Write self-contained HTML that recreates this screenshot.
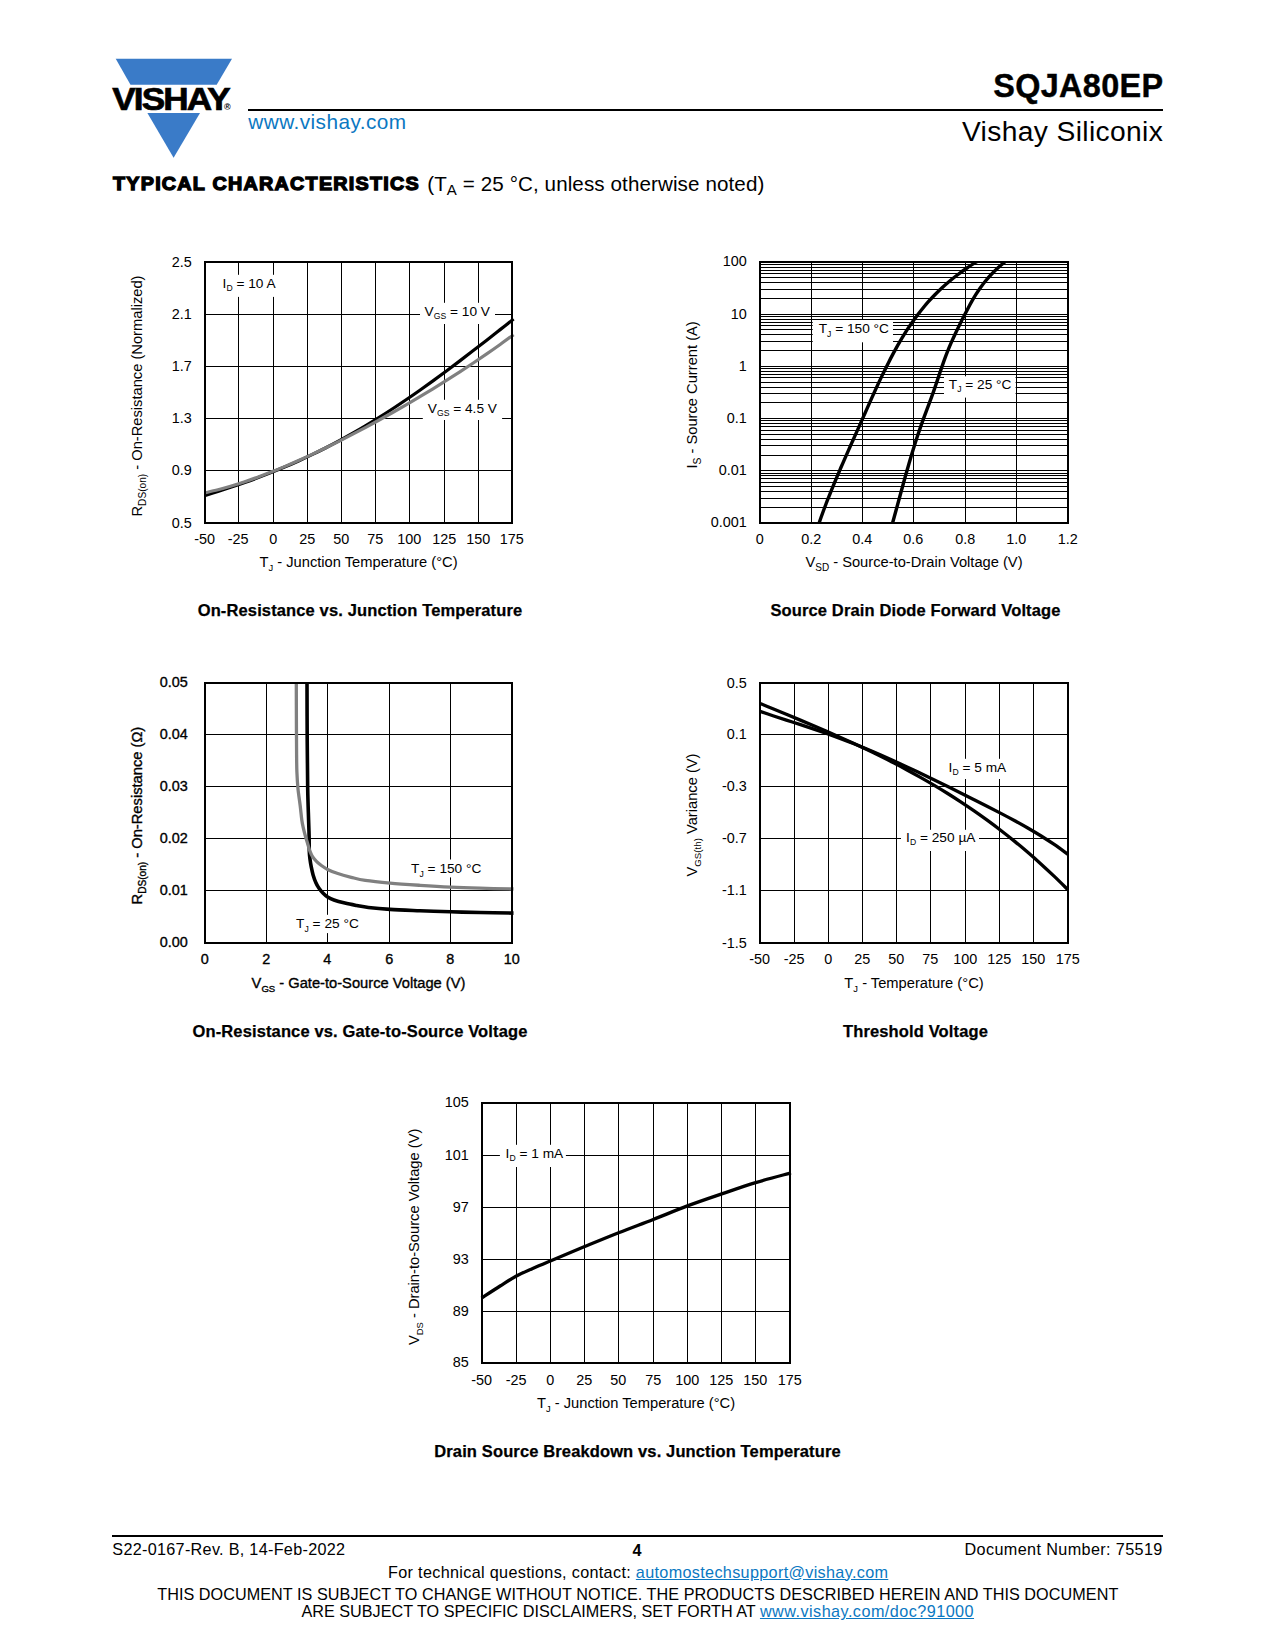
<!DOCTYPE html>
<html lang="en"><head><meta charset="utf-8"><title>SQJA80EP - Vishay Siliconix</title>
<style>
html,body{margin:0;padding:0;background:#fff;}
body{width:1275px;height:1650px;position:relative;overflow:hidden;font-family:"Liberation Sans", sans-serif;color:#000;}
.abs{position:absolute;white-space:nowrap;line-height:1;}
a{color:#0b78c2;text-decoration:underline;}
svg{position:absolute;left:0;top:0;}
svg text{font-family:"Liberation Sans", sans-serif;fill:#000;}
.grid{fill:none;stroke:#000;stroke-width:1;shape-rendering:crispEdges;}
.frame{fill:none;stroke:#000;stroke-width:2;shape-rendering:crispEdges;}
.curve{fill:none;stroke-linecap:butt;stroke-linejoin:round;}
.lbox{fill:#fff;}
.tk{font-size:14.4px;}
.ax{font-size:14.7px;}
.lbl{font-size:13.7px;}
.lbl .sb{font-size:63%;}
.sb{font-size:64%;}
.ttl{font-size:16.5px;font-weight:bold;letter-spacing:0.13px;stroke:#000;stroke-width:0.25px;}
.bolder .tk,.bolder .ax{stroke:#000;stroke-width:0.35px;}
.vishay{font-size:30.8px;font-weight:bold;stroke:#000;stroke-width:0.7px;letter-spacing:-1.6px;}
.reg{font-size:9px;font-weight:bold;}
#pn{right:111.5px;top:69.5px;font-size:32.4px;font-weight:bold;letter-spacing:0.35px;-webkit-text-stroke:0.4px #000;}
#sil{right:111.8px;top:116.7px;font-size:28.2px;letter-spacing:0.37px;}
#www{left:248.3px;top:112px;font-size:20.8px;color:#0b78c2;letter-spacing:0.43px;}
#rule{position:absolute;left:248px;top:109px;width:915px;height:2px;background:#000;}
#tc{left:112.7px;top:174.9px;font-size:18.8px;font-weight:bold;-webkit-text-stroke:1.3px #000;letter-spacing:1.2px;transform:scaleX(1.05);transform-origin:0 0;}
#tc2{left:427.2px;top:174px;font-size:20.6px;letter-spacing:0.1px;}
#tc2 sub{font-size:15px;vertical-align:baseline;position:relative;top:4px;}
#frule{position:absolute;left:112px;top:1535px;width:1051px;height:2px;background:#000;}
.ft{font-size:16.2px;}
</style></head><body>
<div id="rule"></div>
<div class="abs" id="pn">SQJA80EP</div>
<div class="abs" id="sil">Vishay Siliconix</div>
<div class="abs" id="www">www.vishay.com</div>
<div class="abs" id="tc">TYPICAL CHARACTERISTICS</div>
<div class="abs" id="tc2">(T<sub>A</sub> = 25 °C, unless otherwise noted)</div>
<svg width="1275" height="1650" viewBox="0 0 1275 1650">
<g class="logo">
<polygon points="115.7,58.8 232,58.8 216.7,84.8 130.5,84.8" fill="#3a7bc8"/>
<polygon points="147.4,113.1 200,113.1 173.6,157.7" fill="#3a7bc8"/>
<text x="112.2" y="109.7" class="vishay" textLength="116.6" lengthAdjust="spacingAndGlyphs">VISHAY</text>
<text x="224" y="110.2" class="reg">®</text>
</g>
<g class="chart">
<path class="grid" d="M238.5,262V523M273.5,262V523M307.5,262V523M341.5,262V523M375.5,262V523M409.5,262V523M444.5,262V523M478.5,262V523M205,314.5H512M205,366.5H512M205,418.5H512M205,470.5H512"/>
<rect class="lbox" x="217" y="274.8" width="66" height="22.1"/>
<rect class="lbox" x="420" y="302.8" width="75" height="21.2"/>
<rect class="lbox" x="422.8" y="399.8" width="79.3" height="20.2"/>
<path class="curve" stroke="#000" stroke-width="3.2" d="M204.5,495.63 C206.74,494.94 213.46,492.88 217.94,491.46 C222.42,490.04 226.9,488.58 231.38,487.09 C235.86,485.59 240.34,484.06 244.82,482.47 C249.3,480.89 253.78,479.26 258.26,477.58 C262.74,475.89 267.22,474.16 271.7,472.37 C276.18,470.58 280.66,468.73 285.13,466.82 C289.61,464.92 294.09,462.95 298.57,460.92 C303.05,458.89 307.53,456.8 312.01,454.64 C316.49,452.48 320.97,450.26 325.45,447.97 C329.93,445.68 334.41,443.33 338.89,440.9 C343.37,438.48 347.85,436 352.33,433.44 C356.81,430.89 361.29,428.27 365.77,425.59 C370.25,422.9 374.73,420.15 379.21,417.34 C383.69,414.54 388.17,411.66 392.65,408.73 C397.13,405.8 401.61,402.81 406.09,399.76 C410.57,396.72 415.05,393.61 419.53,390.46 C424.01,387.31 428.49,384.1 432.97,380.86 C437.44,377.61 441.92,374.32 446.4,370.99 C450.88,367.66 455.36,364.28 459.84,360.88 C464.32,357.48 468.8,354.04 473.28,350.59 C477.76,347.13 482.24,343.64 486.72,340.15 C491.2,336.66 495.68,333.14 500.16,329.63 C504.64,326.12 511.36,320.84 513.6,319.08"/>
<path class="curve" stroke="#808080" stroke-width="3.2" d="M204.5,492.97 C206.74,492.44 213.46,490.92 217.94,489.76 C222.42,488.6 226.9,487.33 231.38,485.99 C235.86,484.65 240.34,483.22 244.82,481.72 C249.3,480.22 253.78,478.64 258.26,476.99 C262.74,475.35 267.22,473.63 271.7,471.86 C276.18,470.08 280.66,468.24 285.13,466.36 C289.61,464.47 294.09,462.52 298.57,460.52 C303.05,458.53 307.53,456.48 312.01,454.39 C316.49,452.3 320.97,450.16 325.45,447.98 C329.93,445.8 334.41,443.58 338.89,441.32 C343.37,439.06 347.85,436.77 352.33,434.43 C356.81,432.1 361.29,429.73 365.77,427.33 C370.25,424.93 374.73,422.49 379.21,420.02 C383.69,417.55 388.17,415.04 392.65,412.51 C397.13,409.97 401.61,407.4 406.09,404.79 C410.57,402.19 415.05,399.55 419.53,396.88 C424.01,394.21 428.49,391.5 432.97,388.76 C437.44,386.02 441.92,383.24 446.4,380.42 C450.88,377.6 455.36,374.74 459.84,371.84 C464.32,368.93 468.8,365.99 473.28,363 C477.76,360.01 482.24,356.97 486.72,353.88 C491.2,350.79 495.68,347.65 500.16,344.45 C504.64,341.25 511.36,336.31 513.6,334.68"/>
<rect class="frame" x="205" y="262" width="307" height="261"/>
<text class="lbl" x="222.6" y="288">I<tspan class="sb" dy="3.0">D</tspan><tspan dy="-3.0"> = 10 A</tspan></text>
<text class="lbl" x="424.6" y="315.7">V<tspan class="sb" dy="3.0">GS</tspan><tspan dy="-3.0"> = 10 V</tspan></text>
<text class="lbl" x="427.8" y="412.7">V<tspan class="sb" dy="3.0">GS</tspan><tspan dy="-3.0"> = 4.5 V</tspan></text>
<text class="tk" text-anchor="middle" x="204.7" y="544.2">-50</text>
<text class="tk" text-anchor="middle" x="238.2" y="544.2">-25</text>
<text class="tk" text-anchor="middle" x="273.2" y="544.2">0</text>
<text class="tk" text-anchor="middle" x="307.2" y="544.2">25</text>
<text class="tk" text-anchor="middle" x="341.2" y="544.2">50</text>
<text class="tk" text-anchor="middle" x="375.2" y="544.2">75</text>
<text class="tk" text-anchor="middle" x="409.2" y="544.2">100</text>
<text class="tk" text-anchor="middle" x="444.2" y="544.2">125</text>
<text class="tk" text-anchor="middle" x="478.2" y="544.2">150</text>
<text class="tk" text-anchor="middle" x="511.7" y="544.2">175</text>
<text class="tk" text-anchor="end" x="191.8" y="266.95">2.5</text>
<text class="tk" text-anchor="end" x="191.8" y="319.45">2.1</text>
<text class="tk" text-anchor="end" x="191.8" y="371.45">1.7</text>
<text class="tk" text-anchor="end" x="191.8" y="423.45">1.3</text>
<text class="tk" text-anchor="end" x="191.8" y="475.45">0.9</text>
<text class="tk" text-anchor="end" x="191.8" y="527.95">0.5</text>
<text class="ax" text-anchor="middle" x="358.5" y="567.1">T<tspan class="sb" dy="3.8">J</tspan><tspan dy="-3.8"> - Junction Temperature (°C)</tspan></text>
<text class="ax" text-anchor="middle" transform="translate(141.7,396) rotate(-90)">R<tspan class="sb" style="font-size:69%" dy="3.8">DS(on)</tspan><tspan dy="-3.8"> - On-Resistance (Normalized)</tspan></text>
<text class="ttl" text-anchor="middle" x="360" y="615.8">On-Resistance vs. Junction Temperature</text>
</g>
<g class="chart">
<path class="grid" d="M811.5,262V523M862.5,262V523M913.5,262V523M965.5,262V523M1016.5,262V523M760,507.5H1068M760,498.5H1068M760,491.5H1068M760,486.5H1068M760,482.5H1068M760,478.5H1068M760,475.5H1068M760,473.5H1068M760,470.5H1068M760,455.5H1068M760,445.5H1068M760,439.5H1068M760,434.5H1068M760,430.5H1068M760,426.5H1068M760,423.5H1068M760,420.5H1068M760,418.5H1068M760,402.5H1068M760,393.5H1068M760,387.5H1068M760,382.5H1068M760,377.5H1068M760,374.5H1068M760,371.5H1068M760,368.5H1068M760,366.5H1068M760,350.5H1068M760,341.5H1068M760,334.5H1068M760,329.5H1068M760,325.5H1068M760,322.5H1068M760,319.5H1068M760,316.5H1068M760,314.5H1068M760,298.5H1068M760,289.5H1068M760,282.5H1068M760,277.5H1068M760,273.5H1068M760,270.5H1068M760,267.5H1068M760,264.5H1068"/>
<rect class="lbox" x="812.7" y="320" width="80.3" height="22.3"/>
<rect class="lbox" x="944" y="376.3" width="71.6" height="21.3"/>
<clipPath id="cp2a"><rect x="757" y="261" width="314" height="263"/></clipPath>
<path class="curve" clip-path="url(#cp2a)" stroke="#000" stroke-width="3.4" d="M818.76,524 C819.15,522.88 820.31,519.5 821.1,517.26 C821.9,515.01 822.72,512.76 823.55,510.51 C824.38,508.26 825.22,506.02 826.08,503.77 C826.94,501.52 827.81,499.27 828.7,497.03 C829.58,494.78 830.48,492.53 831.39,490.28 C832.3,488.03 833.22,485.79 834.15,483.54 C835.08,481.29 836.02,479.04 836.97,476.79 C837.92,474.55 838.88,472.3 839.84,470.05 C840.81,467.8 841.78,465.56 842.76,463.31 C843.74,461.06 844.72,458.81 845.71,456.56 C846.7,454.32 847.69,452.07 848.69,449.82 C849.68,447.57 850.68,445.32 851.68,443.08 C852.68,440.83 853.69,438.58 854.69,436.33 C855.7,434.09 856.7,431.84 857.71,429.59 C858.71,427.34 859.71,425.09 860.72,422.85 C861.72,420.6 862.72,418.35 863.71,416.1 C864.71,413.85 865.7,411.61 866.7,409.36 C867.7,407.11 868.69,404.86 869.7,402.62 C870.7,400.37 871.7,398.12 872.71,395.87 C873.73,393.62 874.74,391.38 875.77,389.13 C876.8,386.88 877.84,384.63 878.89,382.38 C879.94,380.14 881,377.89 882.08,375.64 C883.15,373.39 884.25,371.15 885.36,368.9 C886.47,366.65 887.59,364.4 888.74,362.15 C889.89,359.91 891.06,357.66 892.26,355.41 C893.45,353.16 894.66,350.91 895.91,348.67 C897.16,346.42 898.42,344.17 899.73,341.92 C901.04,339.68 902.38,337.43 903.76,335.18 C905.15,332.93 906.57,330.68 908.04,328.44 C909.52,326.19 911.04,323.94 912.62,321.69 C914.21,319.44 915.84,317.2 917.55,314.95 C919.25,312.7 921.01,310.45 922.85,308.21 C924.7,305.96 926.6,303.71 928.6,301.46 C930.61,299.21 932.69,296.97 934.9,294.72 C937.1,292.47 939.39,290.22 941.82,287.97 C944.25,285.73 946.79,283.48 949.48,281.23 C952.17,278.98 954.99,276.74 957.97,274.49 C960.95,272.24 964.08,269.99 967.38,267.74 C970.69,265.5 976.08,262.12 977.82,261"/>
<clipPath id="cp2b"><rect x="757" y="261" width="314" height="263"/></clipPath>
<path class="curve" clip-path="url(#cp2b)" stroke="#000" stroke-width="3.4" d="M892.27,524 C892.59,522.88 893.53,519.5 894.15,517.26 C894.77,515.01 895.39,512.76 896,510.51 C896.62,508.26 897.23,506.02 897.84,503.77 C898.46,501.52 899.07,499.27 899.68,497.03 C900.29,494.78 900.9,492.53 901.52,490.28 C902.13,488.03 902.75,485.79 903.37,483.54 C903.99,481.29 904.61,479.04 905.24,476.79 C905.87,474.55 906.5,472.3 907.15,470.05 C907.79,467.8 908.43,465.56 909.09,463.31 C909.74,461.06 910.4,458.81 911.07,456.56 C911.74,454.32 912.42,452.07 913.11,449.82 C913.8,447.57 914.5,445.32 915.22,443.08 C915.93,440.83 916.66,438.58 917.4,436.33 C918.13,434.09 918.89,431.84 919.65,429.59 C920.42,427.34 921.2,425.09 922,422.85 C922.8,420.6 923.62,418.35 924.45,416.1 C925.27,413.85 926.12,411.61 926.97,409.36 C927.81,407.11 928.67,404.86 929.5,402.62 C930.34,400.37 931.18,398.12 932,395.87 C932.81,393.62 933.61,391.38 934.39,389.13 C935.17,386.88 935.92,384.63 936.68,382.38 C937.44,380.14 938.18,377.89 938.93,375.64 C939.69,373.39 940.43,371.15 941.2,368.9 C941.97,366.65 942.74,364.4 943.54,362.15 C944.34,359.91 945.16,357.66 946.01,355.41 C946.87,353.16 947.75,350.91 948.67,348.67 C949.6,346.42 950.56,344.17 951.55,341.92 C952.54,339.68 953.56,337.43 954.6,335.18 C955.64,332.93 956.71,330.68 957.8,328.44 C958.88,326.19 959.99,323.94 961.11,321.69 C962.24,319.44 963.38,317.2 964.54,314.95 C965.7,312.7 966.88,310.45 968.08,308.21 C969.28,305.96 970.49,303.71 971.77,301.46 C973.05,299.21 974.35,296.97 975.76,294.72 C977.17,292.47 978.63,290.22 980.22,287.97 C981.81,285.73 983.48,283.48 985.31,281.23 C987.15,278.98 989.08,276.74 991.21,274.49 C993.34,272.24 995.59,269.99 998.07,267.74 C1000.54,265.5 1004.73,262.12 1006.06,261"/>
<rect class="frame" x="760" y="262" width="308" height="261"/>
<text class="lbl" x="818.7" y="332.9">T<tspan class="sb" dy="3.8">J</tspan><tspan dy="-3.8"> = 150 °C</tspan></text>
<text class="lbl" x="948.8" y="388.6">T<tspan class="sb" dy="3.8">J</tspan><tspan dy="-3.8"> = 25 °C</tspan></text>
<text class="tk" text-anchor="middle" x="759.7" y="544.2">0</text>
<text class="tk" text-anchor="middle" x="811.2" y="544.2">0.2</text>
<text class="tk" text-anchor="middle" x="862.2" y="544.2">0.4</text>
<text class="tk" text-anchor="middle" x="913.2" y="544.2">0.6</text>
<text class="tk" text-anchor="middle" x="965.2" y="544.2">0.8</text>
<text class="tk" text-anchor="middle" x="1016.2" y="544.2">1.0</text>
<text class="tk" text-anchor="middle" x="1067.7" y="544.2">1.2</text>
<text class="tk" text-anchor="end" x="746.8" y="266.35">100</text>
<text class="tk" text-anchor="end" x="746.8" y="318.55">10</text>
<text class="tk" text-anchor="end" x="746.8" y="370.75">1</text>
<text class="tk" text-anchor="end" x="746.8" y="422.95">0.1</text>
<text class="tk" text-anchor="end" x="746.8" y="475.15">0.01</text>
<text class="tk" text-anchor="end" x="746.8" y="527.35">0.001</text>
<text class="ax" text-anchor="middle" x="914" y="567.1">V<tspan class="sb" style="font-size:68%" dy="3.8">SD</tspan><tspan dy="-3.8"> - Source-to-Drain Voltage (V)</tspan></text>
<text class="ax" text-anchor="middle" transform="translate(696.7,394.9) rotate(-90)">I<tspan class="sb" style="font-size:70%" dy="3.8">S</tspan><tspan dy="-3.8"> - Source Current (A)</tspan></text>
<text class="ttl" text-anchor="middle" x="915.5" y="615.8">Source Drain Diode Forward Voltage</text>
</g>
<g class="chart bolder">
<path class="grid" d="M266.5,683V943M327.5,683V943M389.5,683V943M450.5,683V943M205,734.5H512M205,786.5H512M205,838.5H512M205,890.5H512"/>
<rect class="lbox" x="405" y="859.5" width="81" height="17.9"/>
<rect class="lbox" x="291" y="914.8" width="73" height="18.3"/>
<path class="curve" stroke="#000" stroke-width="3.6" d="M307,682 C307.03,691.67 307.08,722.2 307.2,740 C307.32,757.8 307.47,775.47 307.7,788.8 C307.93,802.13 308.37,812.18 308.6,820 C308.83,827.82 308.98,830.47 309.1,835.7 C309.22,840.93 309.15,847.48 309.3,851.4 C309.45,855.32 309.67,856.58 310,859.2 C310.33,861.82 310.78,864.48 311.3,867.1 C311.82,869.72 312.33,872.3 313.1,874.9 C313.87,877.5 314.92,880.48 315.9,882.7 C316.88,884.92 317.83,886.5 319,888.2 C320.17,889.9 321.47,891.45 322.9,892.9 C324.33,894.35 325.77,895.72 327.6,896.9 C329.43,898.08 331.02,898.97 333.9,900 C336.78,901.03 341.1,902.18 344.9,903.1 C348.7,904.02 352.78,904.77 356.7,905.5 C360.62,906.23 362.85,906.85 368.4,907.5 C373.95,908.15 381.4,908.87 390,909.4 C398.6,909.93 409.92,910.3 420,910.7 C430.08,911.1 440.5,911.5 450.5,911.8 C460.5,912.1 469.5,912.28 480,912.5 C490.5,912.72 507.92,913 513.5,913.1"/>
<path class="curve" stroke="#808080" stroke-width="3.3" d="M296.3,682 C296.32,688.33 296.35,707.83 296.4,720 C296.45,732.17 296.52,746.33 296.6,755 C296.68,763.67 296.67,766.37 296.9,772 C297.13,777.63 297.45,783.18 298,788.8 C298.55,794.42 299.57,800.5 300.2,805.7 C300.83,810.9 301.28,816.32 301.8,820 C302.32,823.68 302.72,825.18 303.3,827.8 C303.88,830.42 304.58,833.08 305.3,835.7 C306.02,838.32 306.82,840.88 307.6,843.5 C308.38,846.12 309.15,849.17 310,851.4 C310.85,853.63 311.58,855.2 312.7,856.9 C313.82,858.6 315.25,860.17 316.7,861.6 C318.15,863.03 319.58,864.2 321.4,865.5 C323.22,866.8 324.98,868.1 327.6,869.4 C330.22,870.7 333.17,871.98 337.1,873.3 C341.03,874.62 346.5,876.12 351.2,877.3 C355.9,878.48 358.83,879.43 365.3,880.4 C371.77,881.37 380.88,882.28 390,883.1 C399.12,883.92 409.92,884.63 420,885.3 C430.08,885.97 440.5,886.62 450.5,887.1 C460.5,887.58 469.5,887.88 480,888.2 C490.5,888.52 507.92,888.87 513.5,889"/>
<rect class="frame" x="205" y="683" width="307" height="260"/>
<text class="lbl" x="411.1" y="872.7">T<tspan class="sb" dy="3.8">J</tspan><tspan dy="-3.8"> = 150 °C</tspan></text>
<text class="lbl" x="296.1" y="927.7">T<tspan class="sb" dy="3.8">J</tspan><tspan dy="-3.8"> = 25 °C</tspan></text>
<text class="tk" text-anchor="middle" x="204.7" y="964.2">0</text>
<text class="tk" text-anchor="middle" x="266.2" y="964.2">2</text>
<text class="tk" text-anchor="middle" x="327.2" y="964.2">4</text>
<text class="tk" text-anchor="middle" x="389.2" y="964.2">6</text>
<text class="tk" text-anchor="middle" x="450.2" y="964.2">8</text>
<text class="tk" text-anchor="middle" x="511.7" y="964.2">10</text>
<text class="tk" text-anchor="end" x="187.8" y="687.15">0.05</text>
<text class="tk" text-anchor="end" x="187.8" y="738.65">0.04</text>
<text class="tk" text-anchor="end" x="187.8" y="790.65">0.03</text>
<text class="tk" text-anchor="end" x="187.8" y="842.65">0.02</text>
<text class="tk" text-anchor="end" x="187.8" y="894.65">0.01</text>
<text class="tk" text-anchor="end" x="187.8" y="947.15">0.00</text>
<text class="ax" text-anchor="middle" x="358.5" y="988.4">V<tspan class="sb" style="font-size:65%" dy="3.8">GS</tspan><tspan dy="-3.8"> - Gate-to-Source Voltage (V)</tspan></text>
<text class="ax" text-anchor="middle" transform="translate(141.7,815.6) rotate(-90)">R<tspan class="sb" style="font-size:69%" dy="3.8">DS(on)</tspan><tspan dy="-3.8"> - On-Resistance (Ω)</tspan></text>
<text class="ttl" text-anchor="middle" x="360" y="1036.8">On-Resistance vs. Gate-to-Source Voltage</text>
</g>
<g class="chart">
<path class="grid" d="M794.5,683V943M828.5,683V943M862.5,683V943M896.5,683V943M930.5,683V943M965.5,683V943M999.5,683V943M1033.5,683V943M760,734.5H1068M760,786.5H1068M760,838.5H1068M760,890.5H1068"/>
<rect class="lbox" x="942" y="758.8" width="68" height="20.2"/>
<rect class="lbox" x="901" y="829.8" width="78" height="21.2"/>
<path class="curve" stroke="#000" stroke-width="3.3" d="M759.5,703.17 C761.74,704.09 768.44,706.87 772.91,708.72 C777.38,710.57 781.86,712.42 786.33,714.28 C790.8,716.14 795.27,718 799.74,719.87 C804.21,721.75 808.68,723.64 813.15,725.54 C817.62,727.45 822.09,729.37 826.57,731.32 C831.04,733.26 835.51,735.23 839.98,737.22 C844.45,739.22 848.92,741.24 853.39,743.3 C857.86,745.36 862.33,747.45 866.8,749.58 C871.28,751.71 875.75,753.87 880.22,756.09 C884.69,758.3 889.16,760.55 893.63,762.86 C898.1,765.17 902.57,767.52 907.04,769.93 C911.51,772.35 915.99,774.81 920.46,777.34 C924.93,779.86 929.4,782.45 933.87,785.1 C938.34,787.76 942.81,790.47 947.28,793.26 C951.75,796.05 956.22,798.91 960.7,801.85 C965.17,804.79 969.64,807.8 974.11,810.9 C978.58,814 983.05,817.17 987.52,820.44 C991.99,823.7 996.46,827.05 1000.93,830.5 C1005.41,833.95 1009.88,837.48 1014.35,841.12 C1018.82,844.76 1023.29,848.49 1027.76,852.33 C1032.23,856.17 1036.7,860.11 1041.17,864.16 C1045.64,868.22 1050.12,872.37 1054.59,876.65 C1059.06,880.93 1065.76,887.63 1068,889.82"/>
<path class="curve" stroke="#000" stroke-width="3.3" d="M759.5,711.11 C761.74,711.87 768.44,714.2 772.91,715.7 C777.38,717.19 781.86,718.62 786.33,720.07 C790.8,721.53 795.27,722.95 799.74,724.42 C804.21,725.88 808.68,727.35 813.15,728.86 C817.62,730.38 822.09,731.92 826.57,733.51 C831.04,735.1 835.51,736.73 839.98,738.4 C844.45,740.08 848.92,741.81 853.39,743.59 C857.86,745.36 862.33,747.19 866.8,749.06 C871.28,750.92 875.75,752.84 880.22,754.8 C884.69,756.75 889.16,758.75 893.63,760.78 C898.1,762.81 902.57,764.88 907.04,766.97 C911.51,769.05 915.99,771.18 920.46,773.31 C924.93,775.45 929.4,777.61 933.87,779.78 C938.34,781.95 942.81,784.14 947.28,786.34 C951.75,788.54 956.22,790.75 960.7,792.97 C965.17,795.19 969.64,797.42 974.11,799.66 C978.58,801.91 983.05,804.16 987.52,806.44 C991.99,808.73 996.46,811.02 1000.93,813.36 C1005.41,815.71 1009.88,818.07 1014.35,820.5 C1018.82,822.94 1023.29,825.41 1027.76,827.99 C1032.23,830.57 1036.7,833.2 1041.17,835.98 C1045.64,838.77 1050.12,841.63 1054.59,844.71 C1059.06,847.79 1065.76,852.82 1068,854.44"/>
<rect class="frame" x="760" y="683" width="308" height="260"/>
<text class="lbl" x="948.6" y="771.8">I<tspan class="sb" dy="3.0">D</tspan><tspan dy="-3.0"> = 5 mA</tspan></text>
<text class="lbl" x="906.1" y="841.8">I<tspan class="sb" dy="3.0">D</tspan><tspan dy="-3.0"> = 250 µA</tspan></text>
<text class="tk" text-anchor="middle" x="759.7" y="964.2">-50</text>
<text class="tk" text-anchor="middle" x="794.2" y="964.2">-25</text>
<text class="tk" text-anchor="middle" x="828.2" y="964.2">0</text>
<text class="tk" text-anchor="middle" x="862.2" y="964.2">25</text>
<text class="tk" text-anchor="middle" x="896.2" y="964.2">50</text>
<text class="tk" text-anchor="middle" x="930.2" y="964.2">75</text>
<text class="tk" text-anchor="middle" x="965.2" y="964.2">100</text>
<text class="tk" text-anchor="middle" x="999.2" y="964.2">125</text>
<text class="tk" text-anchor="middle" x="1033.2" y="964.2">150</text>
<text class="tk" text-anchor="middle" x="1067.7" y="964.2">175</text>
<text class="tk" text-anchor="end" x="746.8" y="687.95">0.5</text>
<text class="tk" text-anchor="end" x="746.8" y="739.45">0.1</text>
<text class="tk" text-anchor="end" x="746.8" y="791.45">-0.3</text>
<text class="tk" text-anchor="end" x="746.8" y="843.45">-0.7</text>
<text class="tk" text-anchor="end" x="746.8" y="895.45">-1.1</text>
<text class="tk" text-anchor="end" x="746.8" y="947.95">-1.5</text>
<text class="ax" text-anchor="middle" x="914" y="988.4">T<tspan class="sb" dy="3.8">J</tspan><tspan dy="-3.8"> - Temperature (°C)</tspan></text>
<text class="ax" text-anchor="middle" transform="translate(696.7,815) rotate(-90)">V<tspan class="sb" style="font-size:66%" dy="3.8">GS(th)</tspan><tspan dy="-3.8"> Variance (V)</tspan></text>
<text class="ttl" text-anchor="middle" x="915.5" y="1036.8">Threshold Voltage</text>
</g>
<g class="chart">
<path class="grid" d="M516.5,1103V1363M550.5,1103V1363M584.5,1103V1363M618.5,1103V1363M653.5,1103V1363M687.5,1103V1363M721.5,1103V1363M755.5,1103V1363M482,1155.5H790M482,1207.5H790M482,1259.5H790M482,1311.5H790"/>
<rect class="lbox" x="499.9" y="1144.8" width="66" height="22.2"/>
<path class="curve" stroke="#000" stroke-width="3.3" d="M481.5,1298.1 C484.6,1296.08 494.28,1289.68 500.1,1286 C505.92,1282.32 510.97,1278.93 516.4,1276 C521.83,1273.07 527.05,1270.92 532.7,1268.4 C538.35,1265.88 541.63,1264.53 550.3,1260.9 C558.97,1257.27 573.32,1251.28 584.7,1246.6 C596.08,1241.92 607.18,1237.32 618.6,1232.8 C630.02,1228.28 641.73,1223.98 653.2,1219.5 C664.67,1215.02 675.98,1210.17 687.4,1205.9 C698.82,1201.63 710.33,1197.78 721.7,1193.9 C733.07,1190.02 744.05,1186.1 755.6,1182.6 C767.15,1179.1 785.1,1174.52 791,1172.9"/>
<rect class="frame" x="482" y="1103" width="308" height="260"/>
<text class="lbl" x="505.6" y="1157.8">I<tspan class="sb" dy="3.0">D</tspan><tspan dy="-3.0"> = 1 mA</tspan></text>
<text class="tk" text-anchor="middle" x="481.7" y="1385.3">-50</text>
<text class="tk" text-anchor="middle" x="516.2" y="1385.3">-25</text>
<text class="tk" text-anchor="middle" x="550.2" y="1385.3">0</text>
<text class="tk" text-anchor="middle" x="584.2" y="1385.3">25</text>
<text class="tk" text-anchor="middle" x="618.2" y="1385.3">50</text>
<text class="tk" text-anchor="middle" x="653.2" y="1385.3">75</text>
<text class="tk" text-anchor="middle" x="687.2" y="1385.3">100</text>
<text class="tk" text-anchor="middle" x="721.2" y="1385.3">125</text>
<text class="tk" text-anchor="middle" x="755.2" y="1385.3">150</text>
<text class="tk" text-anchor="middle" x="789.7" y="1385.3">175</text>
<text class="tk" text-anchor="end" x="468.8" y="1107.15">105</text>
<text class="tk" text-anchor="end" x="468.8" y="1159.65">101</text>
<text class="tk" text-anchor="end" x="468.8" y="1211.65">97</text>
<text class="tk" text-anchor="end" x="468.8" y="1263.65">93</text>
<text class="tk" text-anchor="end" x="468.8" y="1315.65">89</text>
<text class="tk" text-anchor="end" x="468.8" y="1367.15">85</text>
<text class="ax" text-anchor="middle" x="636" y="1408.4">T<tspan class="sb" dy="3.8">J</tspan><tspan dy="-3.8"> - Junction Temperature (°C)</tspan></text>
<text class="ax" text-anchor="middle" transform="translate(418.7,1236.8) rotate(-90)">V<tspan class="sb" dy="3.8">DS</tspan><tspan dy="-3.8"> - Drain-to-Source Voltage (V)</tspan></text>
<text class="ttl" text-anchor="middle" x="637.5" y="1456.9">Drain Source Breakdown vs. Junction Temperature</text>
</g>
</svg>
<div id="frule"></div>
<div class="abs ft" style="left:112.3px;top:1540.5px;letter-spacing:0.3px;">S22-0167-Rev. B, 14-Feb-2022</div>
<div class="abs ft" style="left:632.6px;top:1542.3px;font-weight:bold;">4</div>
<div class="abs ft" style="right:112.3px;top:1540.5px;letter-spacing:0.38px;">Document Number: 75519</div>
<div class="abs ft" style="left:388px;top:1563.5px;letter-spacing:0.33px;">For technical questions, contact: <a>automostechsupport@vishay.com</a></div>
<div class="abs ft" style="left:157.2px;top:1586.3px;letter-spacing:0.055px;">THIS DOCUMENT IS SUBJECT TO CHANGE WITHOUT NOTICE. THE PRODUCTS DESCRIBED HEREIN AND THIS DOCUMENT</div>
<div class="abs ft" style="left:301.5px;top:1603.3px;letter-spacing:0px;">ARE SUBJECT TO SPECIFIC DISCLAIMERS, SET FORTH AT <a style="letter-spacing:0.46px;">www.vishay.com/doc?91000</a></div>
</body></html>
